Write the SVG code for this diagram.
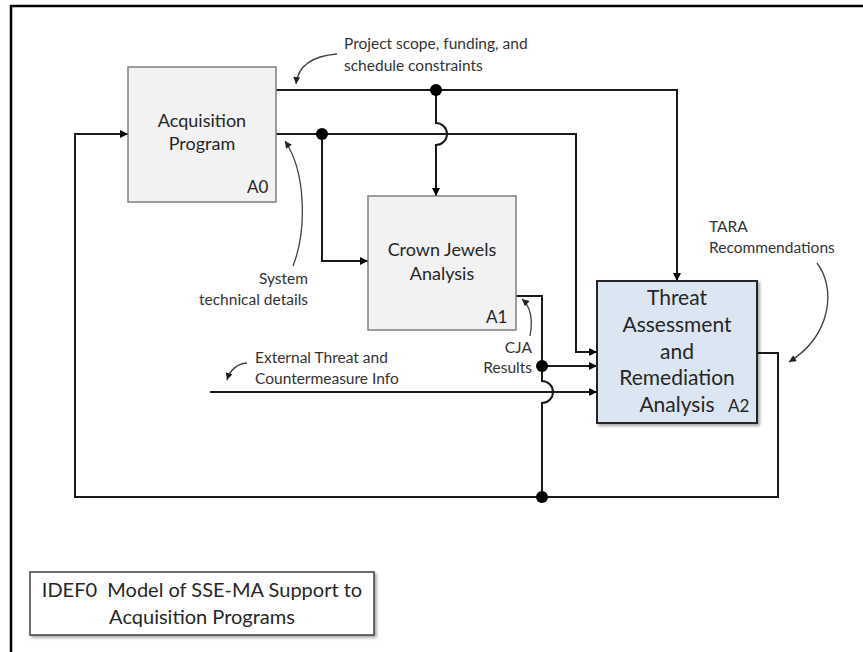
<svg xmlns="http://www.w3.org/2000/svg" width="863" height="652" viewBox="0 0 863 652">
<style>
.conn{fill:none;stroke:#1a1a1a;stroke-width:2}
.note{fill:none;stroke:#404040;stroke-width:1.3}
.box{fill:#f2f2f2;stroke:#7f7f7f;stroke-width:1.5}
.box2{fill:#dce6f2;stroke:#262626;stroke-width:2}
.t{font-family:Lato,"Open Sans",sans-serif;fill:#262626}
.bt{font-size:18px;text-anchor:middle}
.lab{font-size:17px}
.a2{font-size:21px;text-anchor:middle}
.ann{font-size:15.5px;fill:#333333}
.dot{fill:#000}
</style>
<defs>
<marker id="ah" viewBox="0 0 10 10" refX="10" refY="5" markerUnits="userSpaceOnUse" markerWidth="9" markerHeight="8" orient="auto">
<path d="M0,0 L10,5 L0,10 z" fill="#000"/>
</marker>
<marker id="ahs" viewBox="0 0 10 10" refX="10" refY="5" markerUnits="userSpaceOnUse" markerWidth="8" markerHeight="7" orient="auto">
<path d="M0,0 L10,5 L0,10 z" fill="#222"/>
</marker>
<filter id="sh" x="-10%" y="-10%" width="130%" height="130%">
<feDropShadow dx="2" dy="2" stdDeviation="1.5" flood-color="#000" flood-opacity="0.35"/>
</filter>
</defs>

<path d="M11,652 V6 H863" fill="none" stroke="#000" stroke-width="2.5"/>

<g id="connectors">
<path class="conn" d="M276,90 H677 V281" marker-end="url(#ah)"/>
<path class="conn" d="M276,134 H576 V352 H597" marker-end="url(#ah)"/>
<path class="conn" d="M436,90 V123 A11,11 0 0 1 436,145 V196" marker-end="url(#ah)"/>
<path class="conn" d="M322,134 V261 H368" marker-end="url(#ah)"/>
<path class="conn" d="M516,296 H542 V381 A11,11 0 0 1 542,403 V497"/>
<path class="conn" d="M542,366 H597" marker-end="url(#ah)"/>
<path class="conn" d="M210,392 H597" marker-end="url(#ah)"/>
<path class="conn" d="M757,353 H778 V497 H75 V134 H128" marker-end="url(#ah)"/>
<circle class="dot" cx="436" cy="90" r="6"/>
<circle class="dot" cx="322" cy="134" r="6"/>
<circle class="dot" cx="542" cy="366" r="6"/>
<circle class="dot" cx="542" cy="497" r="6"/>
</g>

<g id="A0">
<rect class="box" x="128" y="67" width="148" height="135"/>
<text class="t bt" x="202" y="127">Acquisition</text>
<text class="t bt" x="202" y="150">Program</text>
<text class="t lab" x="247" y="193">A0</text>
</g>

<g id="A1">
<rect class="box" x="368" y="196" width="148" height="134"/>
<text class="t bt" x="442" y="256">Crown Jewels</text>
<text class="t bt" x="442" y="280">Analysis</text>
<text class="t lab" x="486" y="323">A1</text>
</g>

<g id="A2">
<rect class="box2" x="597" y="281" width="160" height="142" filter="url(#sh)"/>
<text class="t a2" x="677" y="305">Threat</text>
<text class="t a2" x="677" y="332">Assessment</text>
<text class="t a2" x="677" y="359">and</text>
<text class="t a2" x="677" y="385">Remediation</text>
<text class="t a2" x="677" y="412">Analysis</text>
<text class="t lab" x="728" y="412">A2</text>
</g>

<g id="ann-scope">
<path class="note" d="M337,54 C312,56 298,66 296,84" marker-end="url(#ahs)"/>
<text class="t ann" x="344" y="49">Project scope, funding, and</text>
<text class="t ann" x="344" y="71">schedule constraints</text>
</g>

<g id="ann-system">
<path class="note" d="M293,266 C307,230 306,172 285,141" marker-end="url(#ahs)"/>
<text class="t ann" x="308" y="284" text-anchor="end">System</text>
<text class="t ann" x="308" y="305" text-anchor="end">technical details</text>
</g>

<g id="ann-tara">
<path class="note" d="M817,263 C836,288 832,335 789,362" marker-end="url(#ahs)"/>
<text class="t ann" x="709" y="232">TARA</text>
<text class="t ann" x="709" y="253">Recommendations</text>
</g>

<g id="ann-cja">
<path class="note" d="M530,336 C533,320 531,307 522,299" marker-end="url(#ahs)"/>
<text class="t ann" x="532" y="353" text-anchor="end">CJA</text>
<text class="t ann" x="532" y="373" text-anchor="end">Results</text>
</g>

<g id="ann-ext">
<path class="note" d="M247,363 C237,364 230,370 227,380" marker-end="url(#ahs)"/>
<text class="t ann" x="255" y="363">External Threat and</text>
<text class="t ann" x="255" y="384">Countermeasure Info</text>
</g>

<g id="title">
<rect x="30" y="572" width="344" height="63" fill="#fff" stroke="#404040" stroke-width="1.5" filter="url(#sh)"/>
<text class="t" x="202" y="597" font-size="20" text-anchor="middle">IDEF0&#160; Model of SSE-MA Support to</text>
<text class="t" x="202" y="624" font-size="20" text-anchor="middle">Acquisition Programs</text>
</g>
</svg>
